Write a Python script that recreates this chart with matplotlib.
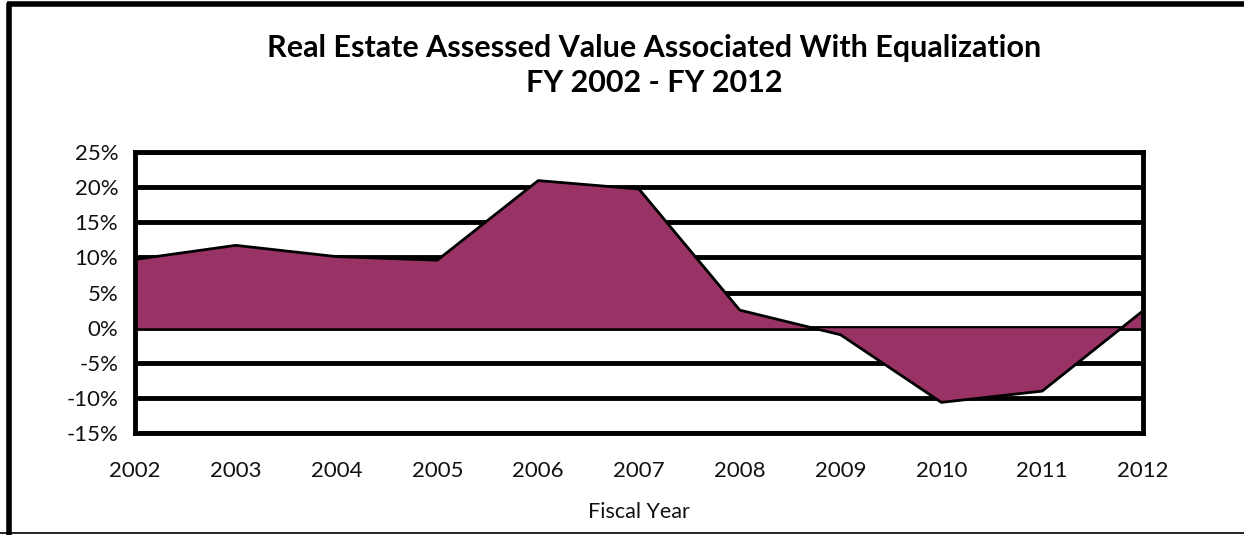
import matplotlib
matplotlib.use("Agg")
import matplotlib.pyplot as plt
from matplotlib.lines import Line2D
from matplotlib.ticker import FuncFormatter

# Data
years = [2002, 2003, 2004, 2005, 2006, 2007, 2008, 2009, 2010, 2011, 2012]
pct_change = [9.7, 11.7, 10.1, 9.6, 20.9, 19.7, 2.5, -1.0, -10.6, -9.0, 2.4]
y_ticks = [-15, -10, -5, 0, 5, 10, 15, 20, 25]

title_text = "Real Estate Assessed Value Associated With Equalization\nFY 2002 - FY 2012"
xlabel_text = "Fiscal Year"

plt.rcParams["font.family"] = ["Lato", "DejaVu Sans"]

fig = plt.figure(figsize=(12.44, 5.35), dpi=100)
ax = fig.add_axes([0.1085, 0.190, 0.8103, 0.5264])

ax.fill_between(years, pct_change, 0, color="#993366", zorder=2, linewidth=0)
ax.plot(years, pct_change, color="black", linewidth=2, zorder=3)

ax.set_xlim(years[0], years[-1])
ax.set_ylim(y_ticks[0], y_ticks[-1])
ax.set_xticks(years)
ax.set_yticks(y_ticks)
ax.yaxis.set_major_formatter(FuncFormatter(lambda v, p: f"{v:.0f}%"))
ax.grid(axis="y", color="black", linewidth=3.5, zorder=1)
ax.set_axisbelow(True)
ax.tick_params(length=0, labelsize=16, colors="#111111")
ax.tick_params(axis="y", pad=12)
ax.tick_params(axis="x", pad=20)
for s in ax.spines.values():
    s.set_linewidth(3.5)
    s.set_zorder(4)

ax.set_xlabel(xlabel_text, fontsize=15.5, labelpad=15, color="#111111")

fig.text(0.526, 0.878, title_text, ha="center", va="center", fontsize=22,
         fontweight="bold", linespacing=1.3)

# outer chart frame (top, left, bottom only)
fig.add_artist(Line2D([0.0056, 1.0], [0.9925, 0.9925], color="black", linewidth=4,
                      transform=fig.transFigure, solid_capstyle="butt"))
fig.add_artist(Line2D([0.0072, 0.0072], [0.0, 0.995], color="black", linewidth=4,
                      transform=fig.transFigure, solid_capstyle="butt"))
fig.add_artist(Line2D([0.0, 1.0], [0.004, 0.004], color="black", linewidth=1.2,
                      transform=fig.transFigure))

fig.savefig("out.png", dpi=100)
